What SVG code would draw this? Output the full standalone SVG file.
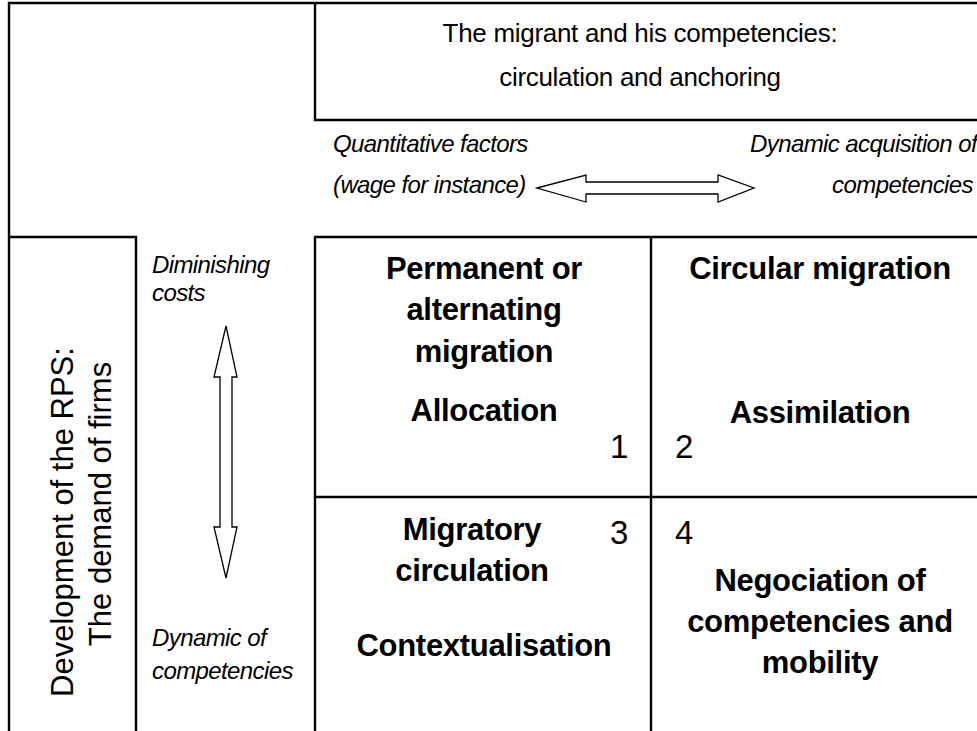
<svg xmlns="http://www.w3.org/2000/svg" width="977" height="731" viewBox="0 0 977 731">
<style>
.ln{stroke:#000;stroke-width:2.4;fill:none}
.ar{stroke:#000;stroke-width:1.3;fill:#fff;stroke-linejoin:miter}
text{font-family:"Liberation Sans",Arial,sans-serif;fill:#000}
.ti{font-size:26px;text-anchor:middle;letter-spacing:-0.3px}
.it{font-size:24px;font-style:italic;letter-spacing:-0.6px}
.bd{font-size:31px;font-weight:bold;text-anchor:middle;letter-spacing:-0.3px}
.nm{font-size:33px}
.vt{font-size:31px;text-anchor:middle}
</style>
<rect width="977" height="731" fill="#fff"/>
<g id="frame">
<path class="ln" d="M9,731 V3 H977"/>
<path class="ln" d="M9,237 H136 V731"/>
</g>
<g id="top-box">
<path class="ln" d="M315,3 V120 H977"/>
<text class="ti" x="640" y="42">The migrant and his competencies:</text>
<text class="ti" x="640" y="86">circulation and anchoring</text>
</g>
<g id="grid">
<path class="ln" d="M315,731 V237 H977"/>
<path class="ln" d="M651,237 V731"/>
<path class="ln" d="M315,497 H977"/>
</g>
<g id="axis-h">
<text class="it" x="333" y="152">Quantitative factors</text>
<text class="it" x="333" y="193">(wage for instance)</text>
<text class="it" x="977" y="152" text-anchor="end">Dynamic acquisition of</text>
<text class="it" x="973" y="193" text-anchor="end">competencies</text>
</g>
<g id="axis-v">
<text class="it" x="152" y="273">Diminishing</text>
<text class="it" x="152" y="301">costs</text>
<text class="it" x="152" y="646">Dynamic of</text>
<text class="it" x="152" y="679">competencies</text>
</g>
<g id="side-label">
<text class="vt" transform="translate(73,522) rotate(-90)">Development of the RPS:</text>
<text class="vt" transform="translate(111,504) rotate(-90)">The demand of firms</text>
</g>
<g id="connectors">
<polygon class="ar" points="537,188 586,175 586,182 718,182 718,175 754,188 718,202 718,194 586,194 586,202"/>
<polygon class="ar" points="226,326 237,377 232,377 232,527 237,527 226,578 214,527 220,527 220,377 214,377"/>
</g>
<g id="cell1">
<text class="bd" x="484" y="279">Permanent or</text>
<text class="bd" x="484" y="320">alternating</text>
<text class="bd" x="484" y="362">migration</text>
<text class="bd" x="484" y="421">Allocation</text>
<text class="nm" x="610" y="458">1</text>
</g>
<g id="cell2">
<text class="bd" x="820" y="279">Circular migration</text>
<text class="bd" x="820" y="423">Assimilation</text>
<text class="nm" x="675" y="458">2</text>
</g>
<g id="cell3">
<text class="bd" x="472" y="540">Migratory</text>
<text class="bd" x="472" y="581">circulation</text>
<text class="bd" x="484" y="656">Contextualisation</text>
<text class="nm" x="610" y="544">3</text>
</g>
<g id="cell4">
<text class="nm" x="675" y="544">4</text>
<text class="bd" x="820" y="591">Negociation of</text>
<text class="bd" x="820" y="632">competencies and</text>
<text class="bd" x="820" y="673">mobility</text>
</g>
</svg>
